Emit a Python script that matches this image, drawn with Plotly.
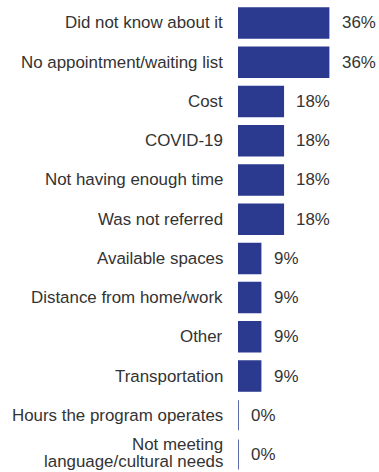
import plotly.graph_objects as go

# Reasons for not using the program (share of respondents, %)
reasons = [
    "Did not know about it",
    "No appointment/waiting list",
    "Cost",
    "COVID-19",
    "Not having enough time",
    "Was not referred",
    "Available spaces",
    "Distance from home/work",
    "Other",
    "Transportation",
    "Hours the program operates",
    "Not meeting<br>language/cultural needs",
]
shares = [36, 36, 18, 18, 18, 18, 9, 9, 9, 9, 0, 0]

BAR_COLOR = "#2b3a8f"
TEXT_COLOR = "#333333"
FONT = "Liberation Sans, Arial, sans-serif"
FONT_SIZE = 16.9

rows = list(range(len(reasons)))

fig = go.Figure(
    go.Bar(
        x=shares,
        y=rows,
        orientation="h",
        width=0.765,
        marker=dict(color=BAR_COLOR, line=dict(color=BAR_COLOR, width=1.5)),
        hoverinfo="skip",
    )
)

annotations = []
# value labels just past the end of each bar
for r, v in zip(rows, shares):
    annotations.append(dict(
        x=v, y=r, xref="x", yref="y", text=f"{v}%", showarrow=False,
        xanchor="left", yanchor="middle", xshift=11,
        font=dict(family=FONT, size=FONT_SIZE, color=TEXT_COLOR),
    ))

# category labels, right-aligned against the bars; wrapped labels use tight line spacing
LINE_GAP = 17
for r, label in zip(rows, reasons):
    lines = label.split("<br>")
    n = len(lines)
    for k, line in enumerate(lines):
        offset = ((n - 1) / 2 - k) * LINE_GAP + (n - 1) * 2
        annotations.append(dict(
            x=0, y=r, xref="paper", yref="y", text=line, showarrow=False,
            xanchor="right", yanchor="middle", xshift=-13, yshift=offset,
            align="right",
            font=dict(family=FONT, size=FONT_SIZE, color=TEXT_COLOR),
        ))

fig.update_layout(
    width=379,
    height=472,
    margin=dict(l=238, r=0, t=0, b=0),
    paper_bgcolor="white",
    plot_bgcolor="white",
    showlegend=False,
    annotations=annotations,
    xaxis=dict(range=[0, 56], visible=False, fixedrange=True),
    yaxis=dict(range=[11.445, -0.586], visible=False, fixedrange=True),
)

fig.write_html("out.html")
